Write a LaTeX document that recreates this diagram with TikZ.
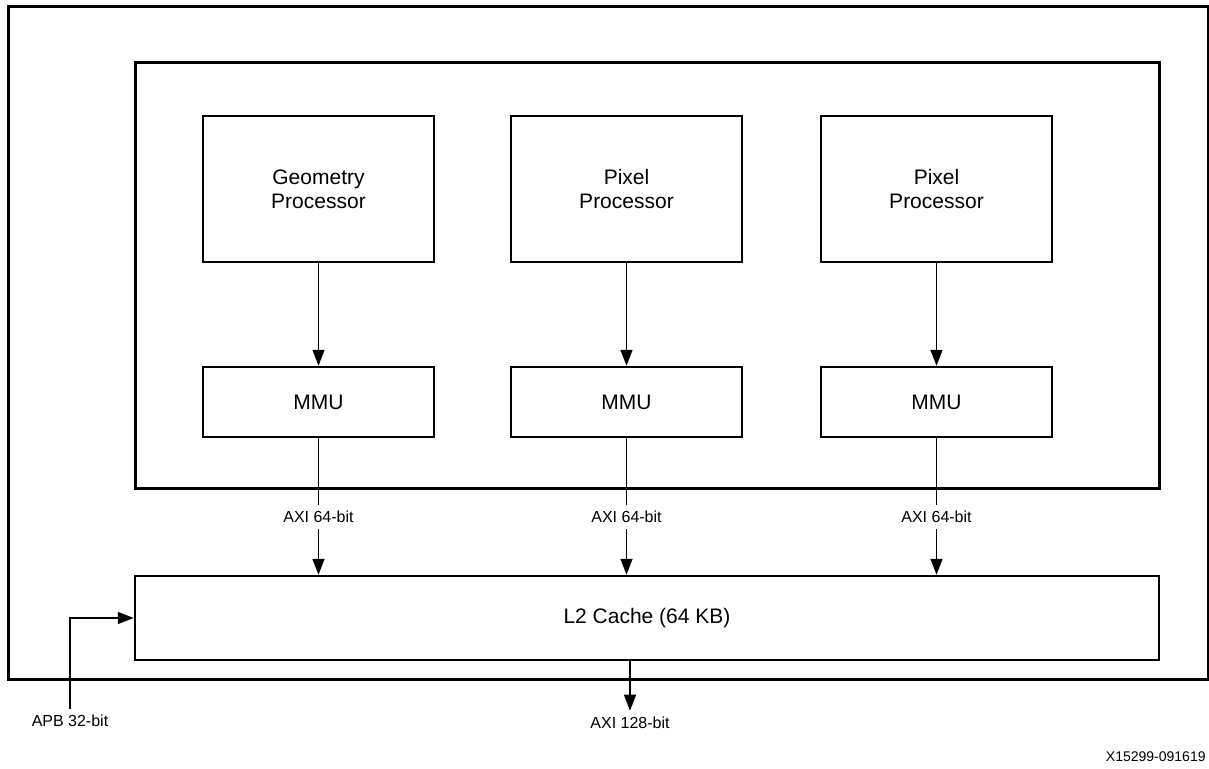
\documentclass[tikz,border=0pt]{standalone}
\usepackage{fontspec}
\setmainfont{Liberation Sans}
\usetikzlibrary{arrows.meta,positioning}
\tikzset{
  frame/.style={draw, line width=1.5pt, inner sep=0pt},
  unit/.style={draw, line width=1.2pt, minimum width=115.5pt, align=center,
               font=\fontsize{10.5}{12}\selectfont},
  bus/.style={font=\fontsize{8}{9.5}\selectfont, inner sep=3pt},
  link/.style={line width=0.7pt},
  flow/.style={-{Triangle[length=8pt,width=6pt]}, line width=0.7pt}
}

\begin{document}
\begin{tikzpicture}[x=0.5pt, y=-0.5pt]
  \useasboundingbox (0,0) rectangle (1209,769);
  % chip and GPU frames
  \node[frame, minimum width=600pt, minimum height=336pt] (chip) at (608,343) {};
  \node[frame, minimum width=512pt, minimum height=213pt] (gpu) at (647,276) {};
  % processors and their MMUs
  \node[unit, minimum height=73pt] (geo) at (318.5,189) {Geometry\\Processor};
  \node[unit, minimum height=73pt] (pix1) at (626.5,189) {Pixel\\Processor};
  \node[unit, minimum height=73pt] (pix2) at (936.5,189) {Pixel\\Processor};
  \node[unit, minimum height=35pt] (mmu0) at (318.5,402) {MMU};
  \node[unit, minimum height=35pt] (mmu1) at (626.5,402) {MMU};
  \node[unit, minimum height=35pt] (mmu2) at (936.5,402) {MMU};
  \node[unit, minimum width=512pt, minimum height=42pt] (ltwo) at (647,618) {L2 Cache (64 KB)};
  \draw[flow] (geo) -- (mmu0);
  \draw[flow] (pix1) -- (mmu1);
  \draw[flow] (pix2) -- (mmu2);
  % AXI ports into the cache
  \node[bus] (axi0) at (318.5,517) {AXI 64-bit};
  \node[bus] (axi1) at (626.5,517) {AXI 64-bit};
  \node[bus] (axi2) at (936.5,517) {AXI 64-bit};
  \draw[link] (mmu0) -- (axi0); \draw[flow] (axi0) -- (axi0 |- ltwo.north);
  \draw[link] (mmu1) -- (axi1); \draw[flow] (axi1) -- (axi1 |- ltwo.north);
  \draw[link] (mmu2) -- (axi2); \draw[flow] (axi2) -- (axi2 |- ltwo.north);
  % external ports
  \node[bus] (axiout) at (630,723) {AXI 128-bit};
  \draw[flow] (ltwo.south -| axiout) -- (axiout);
  \node[bus] (apb) at (70,721) {APB 32-bit};
  \draw[flow] (apb) |- (ltwo.west);
  \node[bus, font=\fontsize{7}{8}\selectfont, anchor=east, inner sep=1pt] (fig) at (1208,757) {X15299-091619};
\end{tikzpicture}
\end{document}
